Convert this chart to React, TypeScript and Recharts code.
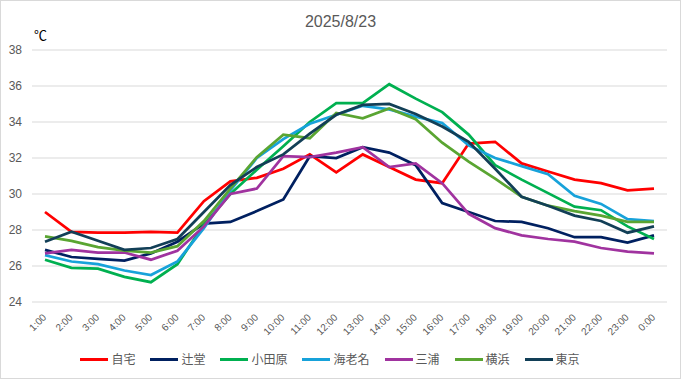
import { LineChart, Line, XAxis, YAxis, CartesianGrid, Legend } from 'recharts';

const hours = ['1:00', '2:00', '3:00', '4:00', '5:00', '6:00', '7:00', '8:00', '9:00', '10:00', '11:00', '12:00',
  '13:00', '14:00', '15:00', '16:00', '17:00', '18:00', '19:00', '20:00', '21:00', '22:00', '23:00', '0:00'];

const jitaku = [29.0, 27.9, 27.85, 27.85, 27.9, 27.85, 29.6, 30.7, 30.9, 31.4, 32.2, 31.2, 32.2, 31.5, 30.8, 30.6, 32.8, 32.9, 31.7, 31.25, 30.8, 30.6, 30.2, 30.3];
const tsujido = [26.9, 26.5, 26.4, 26.3, 26.7, 27.35, 28.35, 28.45, 29.05, 29.7, 32.1, 32.0, 32.6, 32.3, 31.6, 29.5, 29.0, 28.5, 28.45, 28.1, 27.6, 27.6, 27.3, 27.7];
const odawara = [26.35, 25.9, 25.85, 25.4, 25.1, 26.1, 28.3, 30.0, 31.35, 32.65, 34.0, 35.05, 35.05, 36.1, 35.3, 34.55, 33.3, 31.6, 30.8, 30.05, 29.3, 29.1, 28.2, 27.5];
const ebina = [26.6, 26.25, 26.1, 25.75, 25.5, 26.25, 28.1, 30.2, 32.0, 33.05, 33.9, 34.4, 34.9, 34.7, 34.3, 33.95, 32.7, 32.0, 31.55, 31.1, 29.9, 29.45, 28.6, 28.5];
const miura = [26.7, 26.9, 26.75, 26.75, 26.35, 26.85, 28.2, 30.0, 30.3, 32.1, 32.05, 32.3, 32.6, 31.5, 31.7, 30.6, 28.9, 28.1, 27.7, 27.5, 27.35, 27.0, 26.8, 26.7];
const yokohama = [27.65, 27.4, 27.05, 26.85, 26.75, 27.1, 28.5, 30.3, 32.05, 33.3, 33.1, 34.5, 34.2, 34.75, 34.15, 32.85, 31.8, 30.85, 29.85, 29.35, 29.05, 28.8, 28.45, 28.45];
const tokyo = [27.35, 27.9, 27.4, 26.9, 27.0, 27.5, 29.0, 30.5, 31.5, 32.2, 33.35, 34.4, 34.95, 35.0, 34.45, 33.75, 32.9, 31.4, 29.85, 29.35, 28.8, 28.5, 27.85, 28.2];

const yTicks = [24, 26, 28, 30, 32, 34, 36, 38];

const series = [
  { key: '自宅', values: jitaku, color: '#FF0000' },
  { key: '辻堂', values: tsujido, color: '#002060' },
  { key: '小田原', values: odawara, color: '#00B050' },
  { key: '海老名', values: ebina, color: '#17A2DA' },
  { key: '三浦', values: miura, color: '#A0339F' },
  { key: '横浜', values: yokohama, color: '#5AA532' },
  { key: '東京', values: tokyo, color: '#123F57' },
];

const data = hours.map((h, i) => {
  const row: any = { hour: h };
  series.forEach((s) => { row[s.key] = s.values[i]; });
  return row;
});

const tickFont = '"Liberation Sans Narrow", "Liberation Sans", Arial, sans-serif';

// rotated hour labels, like Excel's -45° category labels
const HourTick = ({ x, y, payload }: any) => (
  <text
    x={x + 2}
    y={y + 8}
    transform={`rotate(-45 ${x + 2} ${y + 8})`}
    textAnchor="end"
    fontSize={10}
    fontFamily={tickFont}
    fill="#595959"
  >
    {payload.value}
  </text>
);

const LegendRow = () => (
  <div style={{ display: 'flex', justifyContent: 'center', height: 18, lineHeight: '18px', fontSize: 12, color: '#595959', fontFamily: '"Noto Sans CJK JP", sans-serif' }}>
    {series.map((s) => (
      <div key={s.key} style={{ display: 'flex', alignItems: 'center', marginRight: 15 }}>
        <span style={{ display: 'inline-block', width: 28, height: 3, backgroundColor: s.color, marginRight: 3 }} />
        <span>{s.key}</span>
      </div>
    ))}
  </div>
);

export default function App() {
  return (
    <div style={{ position: 'absolute', left: 0, top: 0, width: 681, height: 379, border: '1px solid #D9D9D9', boxSizing: 'border-box', background: '#fff' }}>
      <div style={{ position: 'absolute', left: 0, top: 12, width: 679, textAlign: 'center', fontSize: 16, color: '#595959', fontFamily: '"Liberation Sans", Arial, sans-serif' }}>
        2025/8/23
      </div>
      <div style={{ position: 'absolute', left: 33, top: 24, fontSize: 13, color: '#000', fontFamily: '"Noto Sans CJK JP", sans-serif' }}>
        ℃
      </div>
      <LineChart width={679} height={377} data={data} margin={{ top: 49, right: 13, left: 7, bottom: 10 }}>
        <CartesianGrid horizontal vertical={false} stroke="#D9D9D9" />
        <XAxis
          dataKey="hour"
          interval={0}
          axisLine={false}
          tickLine={false}
          height={48}
          padding={{ left: 13, right: 13 }}
          tick={<HourTick />}
        />
        <YAxis
          domain={[24, 38]}
          ticks={yTicks}
          width={24}
          axisLine={false}
          tickLine={false}
          tickMargin={4}
          tick={{ fontSize: 12, fill: '#595959', fontFamily: tickFont }}
        />
        <Legend verticalAlign="bottom" content={<LegendRow />} />
        {series.map((s) => (
          <Line
            key={s.key}
            type="linear"
            dataKey={s.key}
            stroke={s.color}
            strokeWidth={2.75}
            dot={false}
            isAnimationActive={false}
          />
        ))}
      </LineChart>
    </div>
  );
}
